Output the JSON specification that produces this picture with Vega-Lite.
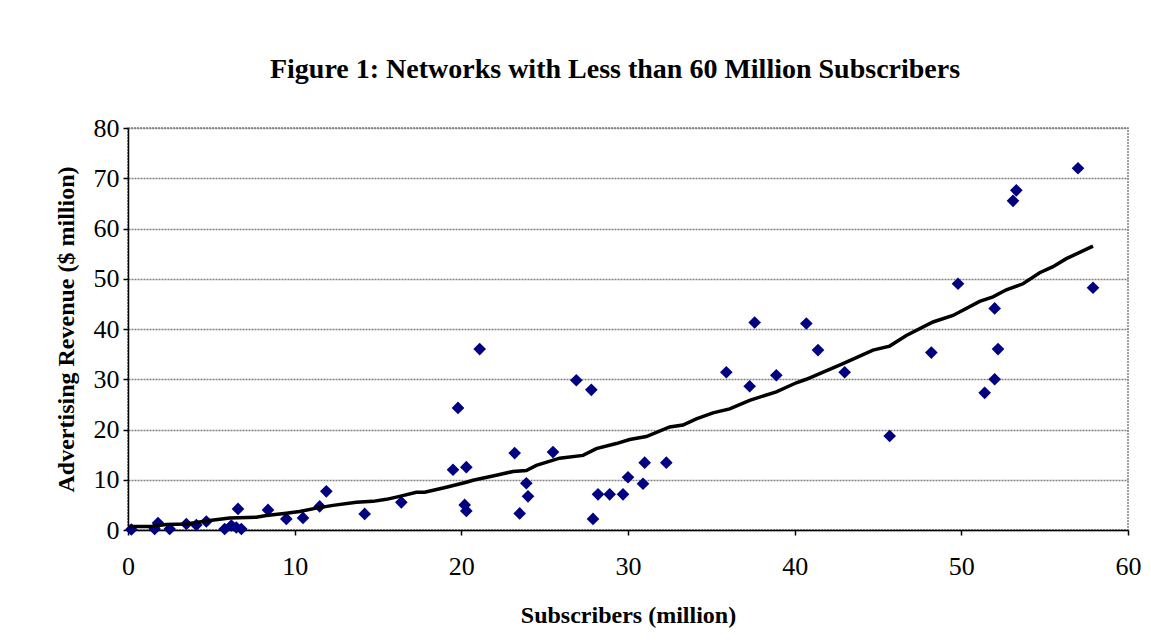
{
  "$schema": "https://vega.github.io/schema/vega-lite/v6.json",
  "width": 1000,
  "height": 402,
  "autosize": "none",
  "padding": {"left": 128, "top": 128, "right": 23, "bottom": 114},
  "background": "white",
  "title": {
    "text": "Figure 1: Networks with Less than 60 Million Subscribers",
    "font": "Liberation Serif",
    "fontSize": 28,
    "fontWeight": "bold",
    "color": "black",
    "anchor": "middle",
    "frame": "group",
    "baseline": "alphabetic",
    "offset": 9,
    "dx": -13
  },
  "datasets": {
    "points": [
      {"subs": 0.2, "rev": 0.1}, {"subs": 1.6, "rev": 0.2}, {"subs": 1.8, "rev": 1.4},
      {"subs": 2.5, "rev": 0.2}, {"subs": 3.5, "rev": 1.2}, {"subs": 4.1, "rev": 1.0},
      {"subs": 4.7, "rev": 1.7}, {"subs": 5.8, "rev": 0.2}, {"subs": 6.2, "rev": 0.9},
      {"subs": 6.5, "rev": 0.5}, {"subs": 6.6, "rev": 4.2}, {"subs": 6.8, "rev": 0.2},
      {"subs": 8.4, "rev": 4.0}, {"subs": 9.5, "rev": 2.2}, {"subs": 10.5, "rev": 2.4},
      {"subs": 11.5, "rev": 4.7}, {"subs": 11.9, "rev": 7.7}, {"subs": 14.2, "rev": 3.2},
      {"subs": 16.4, "rev": 5.5}, {"subs": 19.5, "rev": 12.0}, {"subs": 19.8, "rev": 24.3},
      {"subs": 20.3, "rev": 12.5}, {"subs": 20.2, "rev": 5.0}, {"subs": 20.3, "rev": 3.8},
      {"subs": 21.1, "rev": 36.0}, {"subs": 23.2, "rev": 15.3}, {"subs": 23.9, "rev": 9.3},
      {"subs": 24.0, "rev": 6.7}, {"subs": 23.5, "rev": 3.3}, {"subs": 25.5, "rev": 15.5},
      {"subs": 26.9, "rev": 29.8}, {"subs": 27.8, "rev": 27.9}, {"subs": 27.9, "rev": 2.2},
      {"subs": 28.2, "rev": 7.1}, {"subs": 28.9, "rev": 7.1}, {"subs": 29.7, "rev": 7.1},
      {"subs": 30.0, "rev": 10.5}, {"subs": 30.9, "rev": 9.2}, {"subs": 31.0, "rev": 13.4},
      {"subs": 32.3, "rev": 13.4}, {"subs": 35.9, "rev": 31.4}, {"subs": 37.3, "rev": 28.6},
      {"subs": 38.9, "rev": 30.8}, {"subs": 37.6, "rev": 41.3}, {"subs": 40.7, "rev": 41.1},
      {"subs": 41.4, "rev": 35.8}, {"subs": 43.0, "rev": 31.4}, {"subs": 45.7, "rev": 18.7},
      {"subs": 48.2, "rev": 35.3}, {"subs": 49.8, "rev": 49.0}, {"subs": 51.4, "rev": 27.3},
      {"subs": 52.0, "rev": 30.0}, {"subs": 52.2, "rev": 36.0}, {"subs": 52.0, "rev": 44.1},
      {"subs": 53.1, "rev": 65.5}, {"subs": 53.3, "rev": 67.6}, {"subs": 57.0, "rev": 72.0},
      {"subs": 57.9, "rev": 48.2}
    ],
    "trend": [
      {"subs": 0.1, "rev": 0.7}, {"subs": 1.4, "rev": 0.7}, {"subs": 2.3, "rev": 1.1},
      {"subs": 3.5, "rev": 1.2}, {"subs": 4.9, "rev": 1.9}, {"subs": 6.1, "rev": 2.4},
      {"subs": 7.7, "rev": 2.55}, {"subs": 8.3, "rev": 2.9}, {"subs": 9.5, "rev": 3.35},
      {"subs": 10.3, "rev": 3.7}, {"subs": 11.3, "rev": 4.35}, {"subs": 12.3, "rev": 4.9},
      {"subs": 13.7, "rev": 5.5}, {"subs": 14.7, "rev": 5.7}, {"subs": 15.5, "rev": 6.1},
      {"subs": 16.3, "rev": 6.7}, {"subs": 17.3, "rev": 7.5}, {"subs": 17.8, "rev": 7.5},
      {"subs": 19.1, "rev": 8.5}, {"subs": 20.3, "rev": 9.5}, {"subs": 20.7, "rev": 9.9},
      {"subs": 22.1, "rev": 10.9}, {"subs": 23.1, "rev": 11.65}, {"subs": 23.9, "rev": 11.85},
      {"subs": 24.5, "rev": 12.85}, {"subs": 25.9, "rev": 14.3}, {"subs": 27.3, "rev": 14.85},
      {"subs": 28.1, "rev": 16.2}, {"subs": 29.3, "rev": 17.2}, {"subs": 30.1, "rev": 18.0},
      {"subs": 31.1, "rev": 18.6}, {"subs": 32.5, "rev": 20.5}, {"subs": 33.3, "rev": 20.9},
      {"subs": 34.1, "rev": 22.1}, {"subs": 35.1, "rev": 23.3}, {"subs": 36.1, "rev": 24.1},
      {"subs": 37.3, "rev": 25.8}, {"subs": 38.9, "rev": 27.5}, {"subs": 40.1, "rev": 29.3},
      {"subs": 40.7, "rev": 30.0}, {"subs": 42.9, "rev": 33.1}, {"subs": 44.7, "rev": 35.8},
      {"subs": 45.7, "rev": 36.6}, {"subs": 46.7, "rev": 38.7}, {"subs": 48.3, "rev": 41.4},
      {"subs": 49.5, "rev": 42.7}, {"subs": 51.1, "rev": 45.5}, {"subs": 51.9, "rev": 46.4},
      {"subs": 52.7, "rev": 47.8}, {"subs": 53.7, "rev": 49.0}, {"subs": 54.7, "rev": 51.2},
      {"subs": 55.5, "rev": 52.4}, {"subs": 56.3, "rev": 54.0}, {"subs": 57.9, "rev": 56.5}
    ]
  },
  "encoding": {
    "x": {
      "field": "subs", "type": "quantitative",
      "scale": {"domain": [0, 60], "nice": false, "zero": false},
      "axis": {
        "title": "Subscribers (million)",
        "values": [0, 10, 20, 30, 40, 50, 60],
        "grid": false,
        "domainColor": "black", "domainWidth": 1.5,
        "tickColor": "black", "tickSize": 5, "tickWidth": 1.5,
        "labelFont": "Liberation Serif", "labelFontSize": 26, "labelColor": "black",
        "labelPadding": 18, "labelFlush": false,
        "titleFont": "Liberation Serif", "titleFontSize": 24, "titleFontWeight": "bold",
        "titleColor": "black", "titleBaseline": "alphabetic", "titleY": 92
      }
    },
    "y": {
      "field": "rev", "type": "quantitative",
      "scale": {"domain": [0, 80], "nice": false, "zero": false},
      "axis": {
        "title": "Advertising Revenue ($ million)",
        "values": [0, 10, 20, 30, 40, 50, 60, 70, 80],
        "grid": true, "gridColor": "#808080", "gridDash": [2, 1], "gridWidth": 1.5,
        "domainColor": "black", "domainWidth": 1.5,
        "tickColor": "black", "tickSize": 5, "tickWidth": 1.5,
        "labelFont": "Liberation Serif", "labelFontSize": 26, "labelColor": "black",
        "labelPadding": 4, "labelFlush": false,
        "titleFont": "Liberation Serif", "titleFontSize": 24, "titleFontWeight": "bold",
        "titleColor": "black", "titleBaseline": "alphabetic", "titleX": -55
      }
    }
  },
  "layer": [
    {
      "data": {"name": "points"},
      "mark": {"type": "point", "shape": "diamond", "filled": true, "color": "#000080", "size": 160, "opacity": 1}
    },
    {
      "data": {"name": "trend"},
      "mark": {"type": "line", "color": "black", "strokeWidth": 3.5, "interpolate": "linear"}
    }
  ],
  "config": {
    "view": {"stroke": "#808080", "strokeDash": [2, 1], "strokeWidth": 1.5}
  }
}
